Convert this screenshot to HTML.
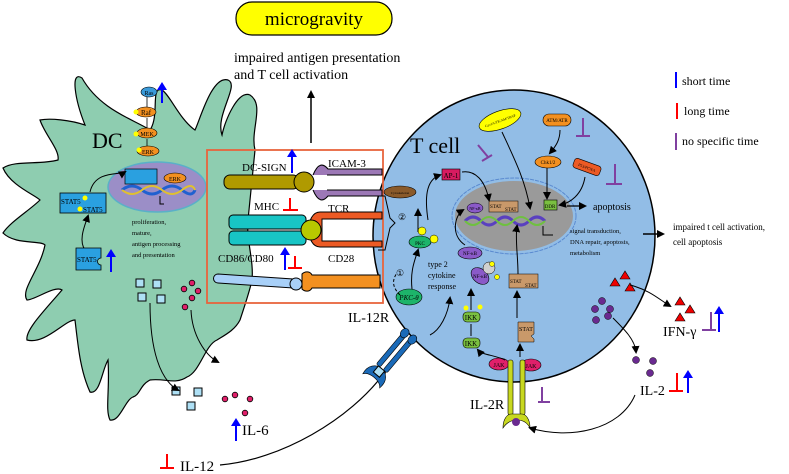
<!DOCTYPE html>
<html><head><meta charset="utf-8"><style>
html,body{margin:0;padding:0;background:#fff;}
svg{display:block;font-family:"Liberation Serif",serif;}
</style></head><body>
<svg width="789" height="474" viewBox="0 0 789 474" xmlns="http://www.w3.org/2000/svg">
<defs>
<marker id="ah" markerWidth="8" markerHeight="8" refX="6" refY="4" orient="auto" markerUnits="userSpaceOnUse"><path d="M0,0 L8,4 L0,8 z" fill="#000"/></marker>
<marker id="bh" markerWidth="8" markerHeight="10" refX="4" refY="5" orient="auto" markerUnits="userSpaceOnUse"><path d="M0,0 L8,5 L0,10 z" fill="#00f"/></marker>
</defs>

<rect x="236" y="2" width="156" height="33" rx="16" fill="#ffff00" stroke="#000" stroke-width="1.2"/>
<text x="314" y="25" font-size="19" text-anchor="middle">microgravity</text>
<text x="234" y="62" font-size="14">impaired antigen presentation</text>
<text x="234" y="79" font-size="14">and T cell activation</text>
<line x1="311" y1="143" x2="311" y2="92" stroke="#000" stroke-width="1.5" marker-end="url(#ah)"/>

<path d="M255,150 C250,130 265,105 250,95 C238,90 225,120 222,135 C215,115 240,85 228,80 C212,75 200,120 195,130 C180,120 170,95 162,90 C150,86 160,115 150,130 C135,120 100,110 82,78 C70,70 75,100 85,125 C70,120 50,118 40,120 C45,135 60,150 58,160 C40,165 15,160 3,168 C10,185 35,195 40,200 C30,210 10,222 3,233 C15,245 40,240 45,245 C40,270 20,290 27,300 C35,300 55,285 62,290 C45,310 25,330 27,340 C45,345 65,320 75,320 C78,345 80,370 90,392 C100,395 102,370 108,360 C110,390 105,410 110,420 C120,422 125,400 133,397 C140,395 140,385 150,380 C165,378 175,385 187,377 C200,372 205,345 217,340 C225,335 235,330 240,320 C245,305 250,290 252,280 C254,260 246,240 248,220 C250,200 253,170 255,150 Z" fill="#8ecdb0" stroke="#000" stroke-width="1.2"/>
<text x="92" y="148" font-size="22">DC</text>

<ellipse cx="149" cy="92" rx="8" ry="5" fill="#3a9ad9" stroke="#000" stroke-width=".6"/><text x="149" y="95" font-size="6" text-anchor="middle">Ras</text>
<line x1="162" y1="103" x2="162" y2="86" stroke="#00f" stroke-width="2" marker-end="url(#bh)"/>
<ellipse cx="146" cy="112" rx="10" ry="5" fill="#f39020" stroke="#000" stroke-width=".6"/><text x="146" y="115" font-size="7" text-anchor="middle">Raf</text>
<ellipse cx="147" cy="133" rx="10" ry="5" fill="#f39020" stroke="#000" stroke-width=".6"/><text x="147" y="136" font-size="6" text-anchor="middle">MEK</text>
<ellipse cx="148" cy="151" rx="11" ry="5" fill="#f39020" stroke="#000" stroke-width=".6"/><text x="148" y="154" font-size="6" text-anchor="middle">ERK</text>
<circle cx="136" cy="112" r="2.5" fill="#ff0"/><circle cx="136" cy="134" r="2.5" fill="#ff0"/><circle cx="139" cy="150" r="2.5" fill="#ff0"/>
<path d="M147,97 v10 M147,118 v10 M147,139 v7" stroke="#000" stroke-width=".8"/>
<ellipse cx="157" cy="187" rx="49" ry="25" fill="#9b8ec7" stroke="#5ab0c8" stroke-width="1.5"/>
<rect x="125" y="169" width="32" height="15" fill="#2aa0e0" stroke="#000" stroke-width=".7"/>
<ellipse cx="175" cy="178" rx="11" ry="5" fill="#f39020" stroke="#000" stroke-width=".6"/><text x="175" y="181" font-size="6" text-anchor="middle">ERK</text>
<path d="M122,190 q10,-8 20,0 t20,0 t20,0 t13,0" stroke="#2060d0" stroke-width="3" fill="none"/>
<path d="M122,190 q10,8 20,0 t20,0 t20,0 t13,0" stroke="#e0c030" stroke-width="2" fill="none"/>
<path d="M160,196 v8 h4" stroke="#000" fill="none"/>
<text x="132" y="224" font-size="6.5">proliferation,</text>
<text x="132" y="235" font-size="6.5">mature,</text>
<text x="132" y="246" font-size="6.5">antigen processing</text>
<text x="132" y="257" font-size="6.5">and presentation</text>
<rect x="60" y="193" width="46" height="20" fill="#2aa0e0" stroke="#000" stroke-width=".8"/>
<text x="61" y="204" font-size="7">STAT5</text><text x="83" y="212" font-size="7">STAT5</text>
<circle cx="85" cy="198" r="2.5" fill="#ff0"/><circle cx="80" cy="209" r="2.5" fill="#ff0"/>
<path d="M90,192 C95,170 120,175 125,172" stroke="#000" fill="none" marker-end="url(#ah)"/>
<path d="M85,250 C78,240 85,225 88,216" stroke="#000" fill="none" marker-end="url(#ah)"/>
<path d="M76,248 h25 v10 a3,3 0 0 0 0,7 v5 h-25z" fill="#2aa0e0" stroke="#000" stroke-width=".8"/>
<text x="77" y="262" font-size="7">STAT5</text>
<line x1="111" y1="272" x2="111" y2="253" stroke="#00f" stroke-width="2" marker-end="url(#bh)"/>
<g fill="#aee0f5" stroke="#000" stroke-width="1">
<rect x="136" y="279" width="8" height="8"/><rect x="153" y="280" width="8" height="8"/><rect x="138" y="293" width="8" height="8"/><rect x="157" y="295" width="8" height="8"/>
<rect x="172" y="387" width="8" height="8"/><rect x="194" y="388" width="8" height="8"/><rect x="187" y="402" width="8" height="8"/>
</g>
<g fill="#e0206a" stroke="#000" stroke-width=".8">
<circle cx="185" cy="307" r="2.8"/><circle cx="192" cy="283" r="2.8"/><circle cx="184" cy="289" r="2.8"/><circle cx="198" cy="291" r="2.8"/><circle cx="192" cy="298" r="2.8"/>
<circle cx="225" cy="399" r="2.8"/><circle cx="235" cy="395" r="2.8"/><circle cx="250" cy="399" r="2.8"/><circle cx="245" cy="413" r="2.8"/>
</g>
<path d="M150,303 C150,350 160,380 178,390" stroke="#000" fill="none" marker-end="url(#ah)"/>
<path d="M191,310 C192,335 205,355 218,362" stroke="#000" fill="none" marker-end="url(#ah)"/>
<line x1="236" y1="441" x2="236" y2="422" stroke="#00f" stroke-width="2" marker-end="url(#bh)"/>
<text x="242" y="435" font-size="15">IL-6</text>
<path d="M160,468 h14 M167,468 v-14" stroke="#f00" stroke-width="2"/>
<text x="180" y="471" font-size="15">IL-12</text>
<path d="M220,465 C280,460 350,420 385,372" stroke="#000" stroke-width="1.2" fill="none" marker-end="url(#ah)"/>

<ellipse cx="514" cy="236" rx="141" ry="146" fill="#92bde6" stroke="#000" stroke-width="1.5"/>
<text x="410" y="153" font-size="22">T cell</text>

<rect x="207" y="150" width="176" height="153" fill="none" stroke="#e8643c" stroke-width="1.8"/>
<rect x="224" y="175" width="75" height="14" rx="6" fill="#b09a00" stroke="#000"/>
<circle cx="304" cy="182" r="10" fill="#b09a00" stroke="#000"/>
<path d="M313,175 c5,-12 10,-12 15,-6 h54 v6 h-55 M313,190 c5,12 10,12 15,6 h54 v-6 h-55" fill="#9c78b6" stroke="#000"/>
<text x="242" y="171" font-size="11">DC-SIGN</text>
<line x1="292" y1="173" x2="292" y2="153" stroke="#00f" stroke-width="2" marker-end="url(#bh)"/>
<text x="328" y="167" font-size="11">ICAM-3</text>
<text x="254" y="210" font-size="11">MHC</text>
<path d="M283,210 h15 M290,210 v-12" stroke="#f00" stroke-width="2"/>
<rect x="229" y="215" width="77" height="14" rx="4" fill="#18c5c5" stroke="#000"/>
<rect x="229" y="231" width="77" height="14" rx="4" fill="#18c5c5" stroke="#000"/>
<path d="M320,212 c-15,0 -15,35 0,35 h62 v-6 h-60 v-22 h60 v-7z" fill="#ec5a24" stroke="#000"/>
<ellipse cx="311" cy="230" rx="10" ry="10" fill="#b8c800" stroke="#000"/>
<text x="328" y="212" font-size="11">TCR</text>
<text x="218" y="262" font-size="11">CD86/CD80</text>
<line x1="285" y1="270" x2="285" y2="251" stroke="#00f" stroke-width="2" marker-end="url(#bh)"/>
<path d="M288,268 h14 M295,268 v-12" stroke="#f00" stroke-width="2"/>
<text x="328" y="262" font-size="11">CD28</text>
<path d="M218,274 l75,5 v9 l-75,-5 a4,4 0 0 1 0,-9z" fill="#a8d0f8" stroke="#000"/>
<circle cx="296" cy="284" r="6" fill="#a8d0f8" stroke="#000"/>
<path d="M302,274 c3,-3 8,-3 10,1 h68 v13 h-68 c-2,4 -7,4 -10,1z" fill="#f39020" stroke="#000"/>

<path d="M378,196 h7 l5,22 l5,5 l-5,5 l-5,22 h-7" stroke="#000" fill="none"/>
<text x="398" y="220" font-size="9">②</text>
<text x="396" y="276" font-size="9">①</text>
<ellipse cx="400" cy="192" rx="16" ry="6" fill="#8a5a2a" stroke="#000" stroke-width=".6"/><text x="400" y="194" font-size="3.5" text-anchor="middle">Cytoskeleton</text>
<ellipse cx="420" cy="242" rx="11" ry="6" fill="#1db46a" stroke="#000" stroke-width=".6"/><text x="420" y="245" font-size="5" text-anchor="middle">PKC</text>
<circle cx="422" cy="231" r="4" fill="#ff0" stroke="#000" stroke-width=".5"/><circle cx="434" cy="239" r="4" fill="#ff0" stroke="#000" stroke-width=".5"/>
<ellipse cx="409" cy="297" rx="13" ry="8" fill="#1db46a" stroke="#000" stroke-width=".6"/><text x="409" y="300" font-size="7" text-anchor="middle" font-style="italic">PKC-θ</text>
<text x="428" y="267" font-size="8">type 2</text><text x="428" y="278" font-size="8">cytokine</text><text x="428" y="289" font-size="8">response</text>
<rect x="442" y="169" width="18" height="11" fill="#d81b60" stroke="#000" stroke-width=".6"/><text x="451" y="178" font-size="7" text-anchor="middle">AP-1</text>
<path d="M428,220 C425,200 425,180 440,175" stroke="#000" fill="none" marker-end="url(#ah)"/>
<path d="M418,232 v-22" stroke="#000" fill="none" marker-end="url(#ah)"/>
<path d="M412,289 C410,270 415,260 418,250" stroke="#000" fill="none" marker-end="url(#ah)"/>
<path d="M400,295 c-8,-8 -8,-15 -3,-22" stroke="#000" fill="none" stroke-dasharray="3,2"/>
<path d="M430,335 C440,330 448,315 450,298" stroke="#000" fill="none" marker-end="url(#ah)"/>
<ellipse cx="514" cy="216" rx="62" ry="38" fill="none" stroke="#5a8ad0" stroke-width="1" stroke-dasharray="4,1"/>
<ellipse cx="514" cy="216" rx="59" ry="35" fill="#9a9a9a"/>
<path d="M465,221 q8,-8 16,0 t16,0 t16,0 t16,0 t16,0" stroke="#5a40c0" stroke-width="3" fill="none"/>
<path d="M465,221 q8,8 16,0 t16,0 t16,0 t16,0 t16,0" stroke="#6fc040" stroke-width="2" fill="none"/>
<ellipse cx="475" cy="208" rx="8" ry="5" fill="#8a5ac8" stroke="#000" stroke-width=".5"/><text x="475" y="210" font-size="4" text-anchor="middle">NF-κB</text>
<rect x="489" y="201" width="29" height="11" fill="#c9996a" stroke="#000" stroke-width=".5"/><text x="490" y="208" font-size="5">STAT</text><text x="505" y="211" font-size="5">STAT</text>
<rect x="544" y="200" width="13" height="10" fill="#7ac040" stroke="#000" stroke-width=".6"/><text x="550" y="208" font-size="5" text-anchor="middle">DDR</text>
<path d="M543,226 v9 h10" stroke="#000" fill="none"/>
<line x1="567" y1="206" x2="585" y2="206" stroke="#000" stroke-width="1.2" marker-end="url(#ah)"/>
<text x="593" y="210" font-size="10">apoptosis</text>
<text x="570" y="233" font-size="6.5">signal transduction,</text><text x="570" y="244" font-size="6.5">DNA repair, apoptosis,</text><text x="570" y="255" font-size="6.5">metabolism</text>
<line x1="643" y1="234" x2="663" y2="234" stroke="#000" stroke-width="1.5" marker-end="url(#ah)"/>
<text x="673" y="230" font-size="9">impaired t cell activation,</text>
<text x="673" y="245" font-size="9">cell apoptosis</text>
<ellipse cx="500" cy="120" rx="22" ry="9" transform="rotate(-20 500 120)" fill="#ffff00" stroke="#000" stroke-width=".6"/><text x="500" y="122" font-size="3.5" text-anchor="middle" transform="rotate(-20 500 120)">Gzv1A/TICAM/TRAP</text>
<path d="M502,132 C515,160 525,180 530,208" stroke="#000" fill="none" marker-end="url(#ah)"/>
<rect x="543" y="114" width="28" height="12" rx="6" fill="#f39020" stroke="#000" stroke-width=".6"/><text x="557" y="122" font-size="5" text-anchor="middle">ATM/ATR</text>
<path d="M583,118 v18 M576,136 h14" stroke="#8040a0" stroke-width="2"/>
<ellipse cx="548" cy="162" rx="13" ry="6" fill="#f39020" stroke="#000" stroke-width=".6"/><text x="548" y="164" font-size="5" text-anchor="middle">Chk1/2</text>
<path d="M560,130 C560,140 556,146 550,153" stroke="#000" fill="none" marker-end="url(#ah)"/>
<path d="M547,168 v30" stroke="#000" fill="none" marker-end="url(#ah)"/>
<rect x="573" y="162" width="28" height="10" rx="3" transform="rotate(20 587 167)" fill="#ec5a24" stroke="#000" stroke-width=".6"/><text x="587" y="169" font-size="4" text-anchor="middle" transform="rotate(20 587 167)">P53/PCNA</text>
<path d="M585,177 C582,195 570,203 560,205" stroke="#000" fill="none" marker-end="url(#ah)"/>
<path d="M615,164 v20 M606,184 h16" stroke="#8040a0" stroke-width="2"/>
<path d="M478,145 l10,12 M482,161 l10,-6" stroke="#8040a0" stroke-width="2"/>
<path d="M462,172 C475,170 485,180 489,200" stroke="#000" fill="none" marker-end="url(#ah)"/>
<ellipse cx="470" cy="253" rx="12" ry="6" fill="#8a5ac8" stroke="#000" stroke-width=".6"/><text x="470" y="255" font-size="5" text-anchor="middle">NF-κB</text>
<ellipse cx="480" cy="276" rx="10" ry="7" transform="rotate(40 480 276)" fill="#8a5ac8" stroke="#000" stroke-width=".6"/><text x="480" y="278" font-size="5" text-anchor="middle">NF-κB</text>
<ellipse cx="489" cy="268" rx="6" ry="6" fill="#d0d0d0" stroke="#000" stroke-width=".5"/>
<circle cx="492" cy="264" r="2.5" fill="#ff0" stroke="#000" stroke-width=".4"/><circle cx="497" cy="277" r="2.5" fill="#ff0" stroke="#000" stroke-width=".4"/>
<rect x="463" y="312" width="17" height="10" rx="4" fill="#7ac040" stroke="#000" stroke-width=".6"/><text x="471" y="320" font-size="7" text-anchor="middle">IKK</text>
<rect x="463" y="338" width="17" height="10" rx="4" fill="#7ac040" stroke="#000" stroke-width=".6"/><text x="471" y="346" font-size="7" text-anchor="middle">IKK</text>
<circle cx="466" cy="308" r="2.5" fill="#ff0"/><circle cx="480" cy="307" r="2.5" fill="#ff0"/>
<path d="M471,336 v-12 M471,310 v-20" stroke="#000" fill="none" marker-end="url(#ah)"/>
<path d="M465,245 C450,235 455,215 463,210" stroke="#000" fill="none" marker-end="url(#ah)"/>
<rect x="509" y="274" width="29" height="14" fill="#c9996a" stroke="#000" stroke-width=".5"/><text x="510" y="283" font-size="5">STAT</text><text x="525" y="287" font-size="5">STAT</text>
<path d="M518,274 C518,255 515,240 517,226" stroke="#000" fill="none" marker-end="url(#ah)"/>
<path d="M517,318 v-26" stroke="#000" fill="none" marker-end="url(#ah)"/>
<path d="M518,322 h16 v12 l-3,2 l3,3 v3 h-16z" fill="#c9996a" stroke="#000" stroke-width=".5"/><text x="519" y="331" font-size="6">STAT</text>
<ellipse cx="499" cy="364" rx="10" ry="6" fill="#e0206a" stroke="#000" stroke-width=".6"/><text x="499" y="367" font-size="6" text-anchor="middle">JAK</text>
<ellipse cx="531" cy="365" rx="10" ry="6" fill="#e0206a" stroke="#000" stroke-width=".6"/><text x="531" y="368" font-size="6" text-anchor="middle">JAK</text>
<path d="M505,360 C495,355 482,355 478,350" stroke="#000" fill="none" marker-end="url(#ah)"/>
<path d="M520,357 v-12" stroke="#000" fill="none" marker-end="url(#ah)"/>
<rect x="508" y="360" width="5" height="55" rx="2" fill="#c8d820" stroke="#000" stroke-width=".6"/>
<rect x="520" y="360" width="5" height="55" rx="2" fill="#c8d820" stroke="#000" stroke-width=".6"/>
<path d="M503,428 c0,-10 5,-14 8,-14 h11 c3,0 8,4 8,14 c-3,-6 -8,-8 -13,-8 c-5,0 -10,2 -14,8z" fill="#c8d820" stroke="#000" stroke-width=".6"/>
<circle cx="516" cy="422" r="4" fill="#6a2a90"/>
<text x="470" y="409" font-size="14">IL-2R</text>
<path d="M542,387 v15 M538,402 h12" stroke="#8040a0" stroke-width="2"/>
<!-- IL-12R -->
<g transform="rotate(40 390 360)">
<rect x="382" y="330" width="5" height="42" rx="2" fill="#1a6ab8" stroke="#000" stroke-width=".6"/>
<rect x="391" y="330" width="5" height="42" rx="2" fill="#1a6ab8" stroke="#000" stroke-width=".6"/>
<ellipse cx="384" cy="330" rx="4" ry="5" fill="#1a6ab8" stroke="#000" stroke-width=".6"/>
<ellipse cx="394" cy="330" rx="4" ry="5" fill="#1a6ab8" stroke="#000" stroke-width=".6"/>
<path d="M378,388 c-2,-10 4,-16 11,-16 c7,0 13,6 11,16 c-4,-6 -18,-6 -22,0z" fill="#1a6ab8" stroke="#000" stroke-width=".6"/>
<rect x="385" y="372" width="8" height="8" fill="#aee0f5" stroke="#000"/>
</g>
<text x="348" y="322" font-size="14">IL-12R</text>
<g fill="#e00" stroke="#000" stroke-width=".6">
<path d="M610,286 l5,-8 l5,8z"/><path d="M620,279 l5,-8 l5,8z"/><path d="M625,291 l5,-8 l5,8z"/>
<path d="M675,305 l5,-8 l5,8z"/><path d="M685,313 l5,-8 l5,8z"/><path d="M675,321 l5,-8 l5,8z"/>
</g>
<path d="M630,285 C650,290 660,300 670,306" stroke="#000" fill="none" marker-end="url(#ah)"/>
<text x="663" y="336" font-size="14">IFN-γ</text>
<path d="M711,312 v18 M702,330 h14" stroke="#8040a0" stroke-width="2"/>
<line x1="719" y1="332" x2="719" y2="310" stroke="#00f" stroke-width="2" marker-end="url(#bh)"/>
<g fill="#6a2a90" stroke="#000" stroke-width=".5">
<circle cx="595" cy="309" r="3.5"/><circle cx="602" cy="301" r="3.5"/><circle cx="610" cy="309" r="3.5"/><circle cx="596" cy="320" r="3.5"/><circle cx="608" cy="316" r="3.5"/>
<circle cx="636" cy="360" r="3.5"/><circle cx="653" cy="361" r="3.5"/><circle cx="650" cy="373" r="3.5"/>
</g>
<path d="M613,318 C625,330 635,340 636,352" stroke="#000" fill="none" marker-end="url(#ah)"/>
<text x="640" y="395" font-size="14">IL-2</text>
<path d="M677,373 v18 M669,391 h14" stroke="#f00" stroke-width="2"/>
<line x1="688" y1="393" x2="688" y2="374" stroke="#00f" stroke-width="2" marker-end="url(#bh)"/>
<path d="M635,395 C620,430 570,440 530,428" stroke="#000" fill="none" marker-end="url(#ah)"/>

<line x1="676" y1="72" x2="676" y2="88" stroke="#00f" stroke-width="2"/>
<text x="682" y="85" font-size="12">short time</text>
<line x1="677" y1="103" x2="677" y2="119" stroke="#f00" stroke-width="2"/>
<text x="684" y="115" font-size="12">long time</text>
<line x1="676" y1="133" x2="676" y2="150" stroke="#8040a0" stroke-width="2"/>
<text x="682" y="145" font-size="12">no specific  time</text>
</svg>
</body></html>
